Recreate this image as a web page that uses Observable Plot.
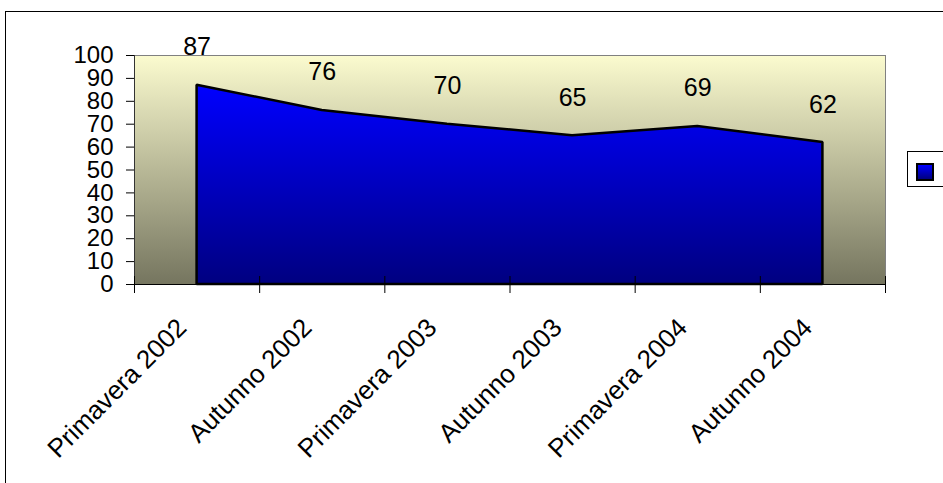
<!DOCTYPE html>
<html>
<head>
<meta charset="utf-8">
<script src="https://cdn.jsdelivr.net/npm/d3@7"></script>
<script src="https://cdn.jsdelivr.net/npm/@observablehq/plot@0.6"></script>
<style>
  html, body { margin: 0; padding: 0; background: #fff; overflow: hidden; width: 943px; height: 483px; }
  #frame { position: absolute; left: 5px; top: 11px; width: 1200px; height: 1000px; border: 1px solid #000; box-sizing: border-box; }
  #chart { position: absolute; left: 0; top: 0; }
  #legend { position: absolute; left: 907px; top: 151px; width: 100px; height: 36px; border: 1px solid #000; box-sizing: border-box; background: #fff; }
  #legend .sw { position: absolute; left: 8px; top: 11px; width: 18px; height: 18px; box-sizing: border-box; border: 2px solid #000; background: linear-gradient(#0000ff, #000080); }
</style>
</head>
<body>
<div id="frame"></div>
<div id="chart"></div>
<div id="legend"><div class="sw"></div></div>
<script>
const categories = ["Primavera 2002", "Autunno 2002", "Primavera 2003", "Autunno 2003", "Primavera 2004", "Autunno 2004"];
const values = [87, 76, 70, 65, 69, 62];
const yTicks = [0, 10, 20, 30, 40, 50, 60, 70, 80, 90, 100];

const data = categories.map((c, i) => ({i, c, v: values[i]}));
const idx = categories.map((c, i) => i);
const bounds = [-0.5].concat(idx.map(i => i + 0.5));

const chart = Plot.plot({
  width: 943,
  height: 483,
  marginLeft: 134,
  marginRight: 58,
  marginTop: 55,
  marginBottom: 199,
  x: {type: "linear", domain: [-0.5, categories.length - 0.5], label: null},
  y: {domain: [0, 100], label: null},
  style: {fontFamily: "'Liberation Sans', Arial, sans-serif", fontSize: "24px", background: "transparent", color: "#000", overflow: "visible"},
  marks: [
    Plot.frame({fill: "url(#bgGrad)", stroke: "#808080"}),
    Plot.areaY(data, {x: "i", y: "v", fill: "url(#areaGrad)", stroke: "#000", strokeWidth: 2.5, strokeLinejoin: "miter"}),
    Plot.ruleX([-0.5], {stroke: "#333"}),
    Plot.ruleY([0], {stroke: "#000"}),
    Plot.axisY({ticks: yTicks, tickSize: 8, tickPadding: 13, fontSize: 24, stroke: "#000", label: null}),
    Plot.axisX({ticks: bounds, tickSize: 17, dy: -8, tickFormat: () => "", stroke: "#000", label: null}),
    Plot.axisX({ticks: idx, tickSize: 0, tickPadding: 39, dx: -15, tickRotate: -45, fontSize: 26, tickFormat: i => categories[i], label: null}),
    Plot.text(data, {x: "i", y: "v", text: d => String(d.v), dy: -38, fontSize: 25, fill: "#000"})
  ]
});

const defs = d3.select(chart).insert("defs", ":first-child");
const bg = defs.append("linearGradient").attr("id", "bgGrad").attr("x1", 0).attr("y1", 0).attr("x2", 0).attr("y2", 1);
bg.append("stop").attr("offset", "0%").attr("stop-color", "#fbfbcf");
bg.append("stop").attr("offset", "100%").attr("stop-color", "#75755f");
const ag = defs.append("linearGradient").attr("id", "areaGrad").attr("x1", 0).attr("y1", 0).attr("x2", 0).attr("y2", 1);
ag.append("stop").attr("offset", "0%").attr("stop-color", "#0000ff");
ag.append("stop").attr("offset", "100%").attr("stop-color", "#000080");

document.getElementById("chart").appendChild(chart);
</script>
</body>
</html>
